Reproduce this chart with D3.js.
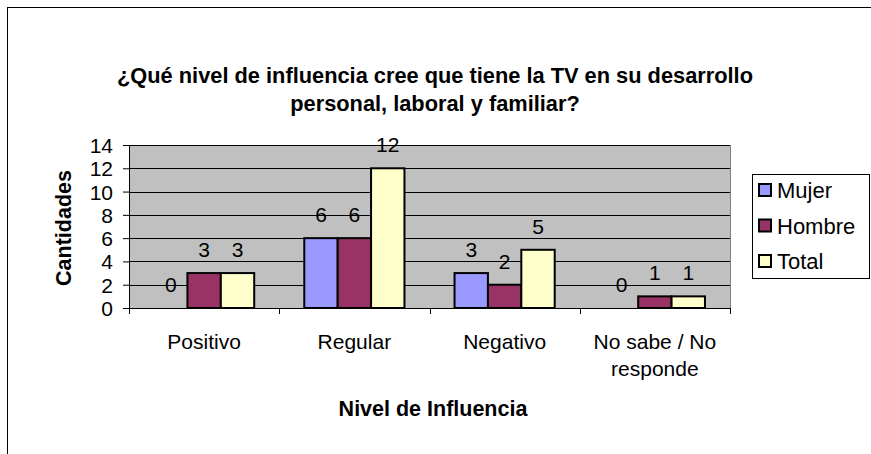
<!DOCTYPE html>
<html lang='es'>
<head>
	<meta charset='UTF-8'/>
	<script src='https://cdnjs.cloudflare.com/ajax/libs/d3/7.8.5/d3.min.js'></script>
	<style>
		body {margin: 0; background: #fff;}
		svg, svg text {font-family: 'Liberation Sans', Arial, sans-serif;}
		svg {display: block;}
		.tick text {font-size: 21px; fill: #000;}
	</style>
</head>
<body>
	<div class='graph'></div>
	<script>
		// data
		const categories = ['Positivo', 'Regular', 'Negativo', 'No sabe / No responde'];
		const seriesNames = ['Mujer', 'Hombre', 'Total'];
		const mujer = [0, 6, 3, 0];
		const hombre = [3, 6, 2, 1];
		const total = [3, 12, 5, 1];
		const yTicks = [0, 2, 4, 6, 8, 10, 12, 14];
		const colors = ['#9999ff', '#993366', '#ffffcc'];

		const width = 871, height = 454;
		const plot = {left: 129, right: 730, top: 145, bottom: 308};

		const svg = d3.select('.graph')
			.append('svg')
			.attr('width', width)
			.attr('height', height);

		// outer frame
		svg.append('rect')
			.attr('x', 7.5).attr('y', 7.5)
			.attr('width', 900).attr('height', 500)
			.style('fill', '#fff')
			.style('stroke', '#000')
			.style('stroke-width', 1);

		// title
		const title = svg.append('text')
			.attr('text-anchor', 'middle')
			.style('font-size', '21.8px')
			.style('font-weight', 'bold');
		title.append('tspan').attr('x', 435).attr('y', 83)
			.text('¿Qué nivel de influencia cree que tiene la TV en su desarrollo');
		title.append('tspan').attr('x', 435).attr('y', 111)
			.text('personal, laboral y familiar?');

		const rows = categories.map((c, i) => ({cat: c, values: [mujer[i], hombre[i], total[i]]}));

		const X = d3.scaleBand()
			.domain(categories)
			.range([plot.left, plot.right]);
		const X_INNER = d3.scaleBand()
			.domain(seriesNames)
			.range([0, X.bandwidth()])
			.paddingInner(0)
			.paddingOuter(0.75);
		const Y = d3.scaleLinear()
			.domain([0, 14])
			.range([plot.bottom, plot.top]);

		// plot background
		svg.append('rect')
			.attr('x', plot.left).attr('y', plot.top)
			.attr('width', plot.right - plot.left)
			.attr('height', plot.bottom - plot.top)
			.style('fill', '#c0c0c0');

		// gridlines
		svg.append('g')
			.selectAll('line')
			.data(yTicks.slice(1))
			.enter()
			.append('line')
			.attr('x1', plot.left).attr('x2', plot.right)
			.attr('y1', d => Math.round(Y(d)) + 0.5)
			.attr('y2', d => Math.round(Y(d)) + 0.5)
			.style('stroke', '#000');

		// right frame of plot area
		svg.append('line')
			.attr('x1', plot.right + 0.5).attr('x2', plot.right + 0.5)
			.attr('y1', plot.top).attr('y2', plot.bottom)
			.style('stroke', '#808080');

		// bars
		const groups = svg.append('g')
			.selectAll('g')
			.data(rows)
			.enter()
			.append('g')
			.attr('transform', d => 'translate(' + X(d.cat) + ',0)');

		groups.selectAll('rect')
			.data(d => d.values.map((v, j) => ({name: seriesNames[j], v: v, j: j})))
			.enter()
			.filter(d => d.v > 0)
			.append('rect')
			.attr('x', d => X_INNER(d.name))
			.attr('y', d => Y(d.v))
			.attr('width', X_INNER.bandwidth())
			.attr('height', d => Y(0) - Y(d.v))
			.style('fill', d => colors[d.j])
			.style('stroke', '#000')
			.style('stroke-width', 2);

		// value labels
		groups.selectAll('text')
			.data(d => d.values.map((v, j) => ({name: seriesNames[j], v: v})))
			.enter()
			.append('text')
			.attr('x', d => X_INNER(d.name) + X_INNER.bandwidth() / 2)
			.attr('y', d => Y(d.v) - 16)
			.attr('text-anchor', 'middle')
			.style('font-size', '21px')
			.text(d => d.v);

		// y axis
		svg.append('g')
			.attr('transform', 'translate(' + plot.left + ',0)')
			.call(d3.axisLeft(Y).tickValues(yTicks).tickSize(6).tickPadding(10))
			.call(g => g.attr('font-family', null).attr('font-size', null))
			.call(g => g.selectAll('.domain').attr('d', 'M0.5,' + plot.top + 'V' + (plot.bottom + 5)))
			.call(g => g.selectAll('.tick line').style('stroke', '#000'))
			.call(g => g.selectAll('.tick text').attr('dy', '0.36em'));

		// x axis
		const xAxis = svg.append('g')
			.attr('transform', 'translate(0,' + plot.bottom + ')');
		xAxis.append('line')
			.attr('x1', plot.left - 6).attr('x2', plot.right)
			.attr('y1', 0.5).attr('y2', 0.5)
			.style('stroke', '#000');
		xAxis.selectAll('.xtick')
			.data(categories.concat(['end']))
			.enter()
			.append('line')
			.attr('x1', (d, i) => Math.round(plot.left + i * X.step()) + 0.5)
			.attr('x2', (d, i) => Math.round(plot.left + i * X.step()) + 0.5)
			.attr('y1', 0).attr('y2', 6)
			.style('stroke', '#000');
		const catLabels = xAxis.selectAll('.xlabel')
			.data(categories)
			.enter()
			.append('text')
			.attr('text-anchor', 'middle')
			.style('font-size', '21px');
		catLabels.each(function (d) {
			const lines = d === 'No sabe / No responde' ? ['No sabe / No', 'responde'] : [d];
			lines.forEach((t, k) => {
				d3.select(this).append('tspan')
					.attr('x', X(d) + X.bandwidth() / 2)
					.attr('y', 41 + k * 27)
					.text(t);
			});
		});

		// axis titles
		svg.append('text')
			.attr('transform', 'rotate(-90)')
			.attr('x', -228)
			.attr('y', 71)
			.attr('text-anchor', 'middle')
			.style('font-size', '21.5px')
			.style('font-weight', 'bold')
			.text('Cantidades');
		svg.append('text')
			.attr('x', 433)
			.attr('y', 416)
			.attr('text-anchor', 'middle')
			.style('font-size', '21.5px')
			.style('font-weight', 'bold')
			.text('Nivel de Influencia');

		// legend
		const legend = svg.append('g');
		legend.append('rect')
			.attr('x', 752.5).attr('y', 174.5)
			.attr('width', 117).attr('height', 104)
			.style('fill', '#fff')
			.style('stroke', '#000');
		const items = legend.selectAll('.item')
			.data(seriesNames)
			.enter()
			.append('g')
			.attr('transform', (d, i) => 'translate(759,' + (184 + i * 35.5) + ')');
		items.append('rect')
			.attr('width', 12).attr('height', 12)
			.style('fill', (d, i) => colors[i])
			.style('stroke', '#000')
			.style('stroke-width', 2);
		items.append('text')
			.attr('x', 18).attr('y', 14)
			.style('font-size', '22px')
			.text(d => d);
	</script>
</body>
</html>
